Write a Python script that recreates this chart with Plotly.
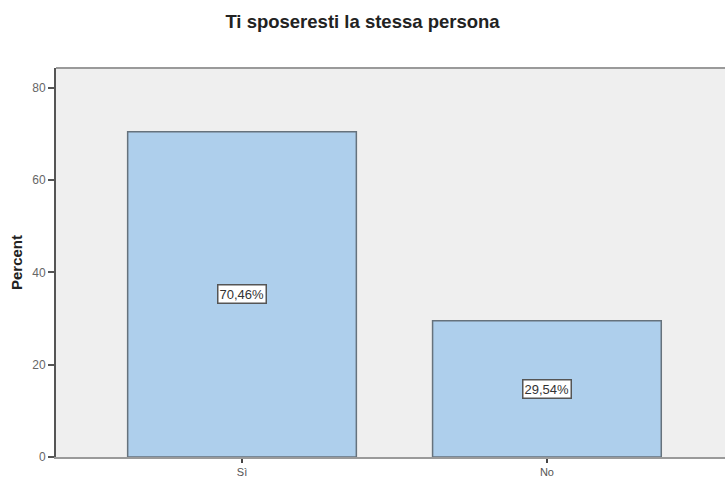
import plotly.graph_objects as go

# Survey answers and their percentages
categories = ["Sì", "No"]
percentages = [70.46, 29.54]
y_ticks = [0, 20, 40, 60, 80]
title_text = "Ti sposeresti la stessa persona"


def fmt_pct(v):
    return f"{v:.2f}".replace(".", ",") + "%"


fig = go.Figure()
fig.add_trace(go.Bar(
    x=categories,
    y=percentages,
    width=0.75,
    marker=dict(color="#aecfec", line=dict(color="#66727c", width=1.5)),
    hoverinfo="skip",
))

# Value labels centred inside each bar
for cat, val in zip(categories, percentages):
    fig.add_annotation(
        x=cat, y=val / 2, text=fmt_pct(val), showarrow=False,
        font=dict(family="Liberation Sans, Arial", size=13, color="#333"),
        bgcolor="white", bordercolor="#555", borderwidth=1.5, borderpad=1,
    )

# Top border of the plotting frame
fig.add_shape(type="line", xref="paper", yref="paper", x0=0, x1=1, y0=1, y1=1,
              line=dict(color="#9a9a9a", width=2))

fig.update_layout(
    width=725, height=478,
    margin=dict(l=56, r=0, t=68, b=21),
    paper_bgcolor="white",
    plot_bgcolor="#efefef",
    showlegend=False,
    title=dict(text=f"<b>{title_text}</b>", x=0.5, xanchor="center", y=0.955, yanchor="middle",
               font=dict(family="Liberation Sans, Arial", size=18.5, color="#222")),
    font=dict(family="Liberation Sans, Arial", size=12, color="#555"),
)

fig.update_xaxes(
    type="category",
    range=[-0.61, 1.584],
    automargin=False,
    showgrid=False, zeroline=False,
    showline=True, linecolor="#9a9a9a", linewidth=2,
    ticks="outside", ticklen=4, tickwidth=2, tickcolor="#444",
    tickfont=dict(size=11, color="#555"),
)
fig.update_yaxes(
    range=[0, 84.3],
    tickvals=y_ticks,
    automargin=False,
    showgrid=False, zeroline=False,
    showline=True, linecolor="#555", linewidth=2,
    ticks="outside", ticklen=6, tickwidth=1.5, tickcolor="#555",
    tickfont=dict(size=12, color="#666"),
    title=dict(text="<b>Percent</b>", font=dict(size=15, color="#222"), standoff=6),
)

fig.write_html("out.html")
